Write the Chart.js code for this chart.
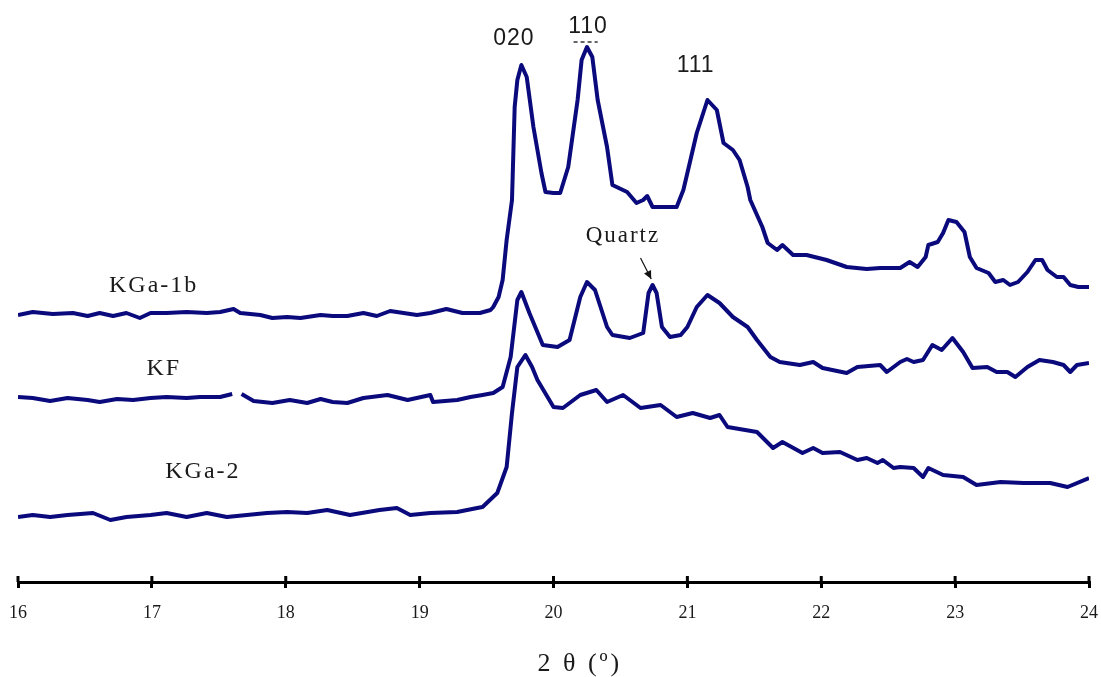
<!DOCTYPE html>
<html>
<head>
<meta charset="utf-8">
<title>XRD - KGa-1b, KF, KGa-2</title>
<script src="https://cdn.jsdelivr.net/npm/chart.js@4.4.1/dist/chart.umd.min.js"></script>
<style>
  body { margin: 0; background: #fff; }
  #wrap { width: 1101px; height: 677px; position: relative; }
</style>
</head>
<body>
<div id="wrap"><canvas id="xrd"></canvas></div>
<script>
// 2 theta (deg) and intensity (arbitrary units, traces stacked)
const kga1bTheta = [16.00,16.11,16.26,16.41,16.52,16.61,16.71,16.81,16.91,16.99,
  17.11,17.26,17.41,17.51,17.61,17.66,17.81,17.90,18.01,18.11,
  18.26,18.35,18.46,18.58,18.68,18.78,18.88,18.98,19.08,19.20,
  19.32,19.45,19.53,19.55,19.59,19.62,19.65,19.69,19.71,19.73,
  19.76,19.80,19.85,19.91,19.94,20.00,20.05,20.11,20.18,20.21,
  20.25,20.29,20.33,20.40,20.44,20.55,20.62,20.67,20.70,20.74,
  20.85,20.92,20.97,21.00,21.07,21.15,21.22,21.27,21.34,21.39,
  21.45,21.47,21.52,21.56,21.60,21.67,21.71,21.79,21.89,22.04,
  22.19,22.34,22.44,22.59,22.66,22.72,22.78,22.80,22.87,22.91,
  22.95,23.01,23.07,23.11,23.16,23.25,23.30,23.36,23.41,23.47,
  23.54,23.60,23.65,23.69,23.76,23.81,23.86,23.92,24.00]
const kga1bInt = [267,270,268,269,266,269,266,269,264,269,
  269,270,269,270,273,269,267,264,265,264,
  267,266,266,269,266,271,269,267,269,273,
  269,269,272,275,285,302,342,382,475,502,
  517,505,455,409,390,389,389,415,482,522,
  535,525,482,435,397,390,379,382,386,375,
  375,375,392,409,449,482,472,439,432,422,
  395,382,367,355,339,332,337,327,327,322,
  315,313,314,314,320,315,325,337,340,349,
  362,360,350,325,314,309,300,302,297,300,
  310,322,322,312,305,305,297,295,295]

const kfTheta = [16.00,16.11,16.24,16.37,16.52,16.61,16.74,16.86,16.99,17.11,
  17.26,17.36,17.51,17.60,17.63,17.67,17.76,17.90,18.03,18.16,
  18.26,18.35,18.46,18.58,18.76,18.91,19.08,19.10,19.28,19.38,
  19.47,19.55,19.62,19.68,19.73,19.76,19.82,19.92,20.03,20.12,
  20.20,20.25,20.31,20.40,20.44,20.57,20.67,20.71,20.74,20.77,
  20.81,20.87,20.95,21.00,21.07,21.15,21.24,21.34,21.45,21.52,
  21.62,21.69,21.84,21.94,22.01,22.19,22.27,22.44,22.49,22.59,
  22.64,22.69,22.76,22.83,22.90,22.98,23.06,23.13,23.24,23.31,
  23.39,23.45,23.54,23.63,23.73,23.81,23.86,23.91,24.00]
const kfInt = [185,184,181,184,182,180,183,182,184,185,
  184,185,185,188,null,188,181,179,182,179,
  183,180,179,184,187,182,187,180,182,185,
  187,189,195,225,282,290,269,237,235,242,
  285,300,292,255,247,244,249,289,297,289,
  255,245,247,255,275,287,279,265,255,242,
  225,220,217,220,214,209,215,217,210,220,
  223,220,222,237,232,244,230,214,215,210,
  210,205,215,222,220,217,210,217,219]

const kga2Theta = [16.00,16.11,16.24,16.37,16.56,16.69,16.81,16.99,17.11,17.26,
  17.41,17.56,17.71,17.86,18.01,18.16,18.31,18.48,18.70,18.83,
  18.93,19.08,19.28,19.43,19.47,19.58,19.65,19.69,19.73,19.79,
  19.84,19.88,20.00,20.07,20.20,20.32,20.40,20.52,20.65,20.80,
  20.92,21.04,21.17,21.24,21.30,21.52,21.64,21.71,21.86,21.94,
  22.01,22.14,22.27,22.34,22.42,22.46,22.54,22.59,22.69,22.76,
  22.80,22.91,23.06,23.16,23.34,23.51,23.71,23.84,24.00]
const kga2Int = [65,67,65,67,69,62,65,67,69,65,
  69,65,67,69,70,69,72,67,72,74,
  67,69,70,74,75,89,115,169,215,227,
  215,202,175,174,187,192,180,187,174,177,
  165,169,164,167,155,150,134,140,129,134,
  129,130,122,124,119,122,114,115,114,105,
  114,107,105,97,100,99,99,95,104]

const tickValues = [16, 17, 18, 19, 20, 21, 22, 23, 24]
const axisTitle = '2 \u03b8 (\u00ba)'

// text labels placed in data coordinates (2 theta, intensity), left / baseline
const notes = [
  { text: 'KGa-1b', x: 16.68, y: 290, font: '24px "Liberation Serif"', sp: 2 },
  { text: 'KF', x: 16.96, y: 207, font: '24px "Liberation Serif"', sp: 2 },
  { text: 'KGa-2', x: 17.10, y: 104, font: '24px "Liberation Serif"', sp: 2 },
  { text: 'Quartz', x: 20.24, y: 340, font: '23px "Liberation Serif"', sp: 2 },
  { text: '020', x: 19.55, y: 537, font: '23px "Liberation Sans"', sp: 1 },
  { text: '110', x: 20.11, y: 549, font: '23px "Liberation Sans"', sp: 1 },
  { text: '111', x: 20.92, y: 510, font: '23px "Liberation Sans"', sp: 1 }
]

function pts(xs, ys) {
  return xs.map((x, i) => ({ x: x, y: ys[i] }))
}

const lineColor = '#0a0a7c'

const extras = {
  id: 'extras',
  afterDraw(chart) {
    const ctx = chart.ctx
    const xs = chart.scales.x
    const ys = chart.scales.y
    const base = chart.chartArea.bottom
    ctx.save()
    // upper half of the tick marks (crossing the axis)
    ctx.strokeStyle = '#000'
    ctx.lineWidth = 3
    tickValues.forEach(v => {
      const px = xs.getPixelForValue(v)
      ctx.beginPath()
      ctx.moveTo(px, base - 6)
      ctx.lineTo(px, base)
      ctx.stroke()
    })
    // text labels
    ctx.fillStyle = '#1a1a1a'
    ctx.textAlign = 'left'
    ctx.textBaseline = 'alphabetic'
    notes.forEach(n => {
      ctx.font = n.font
      ctx.letterSpacing = n.sp + 'px'
      ctx.fillText(n.text, xs.getPixelForValue(n.x), ys.getPixelForValue(n.y))
    })
    // dashes under 110
    ctx.letterSpacing = '0px'
    ctx.setLineDash([4, 3])
    ctx.lineWidth = 1.5
    ctx.strokeStyle = '#333'
    ctx.beginPath()
    ctx.moveTo(xs.getPixelForValue(20.15), ys.getPixelForValue(540))
    ctx.lineTo(xs.getPixelForValue(20.33), ys.getPixelForValue(540))
    ctx.stroke()
    ctx.setLineDash([])
    // quartz arrow
    const ax0 = xs.getPixelForValue(20.65), ay0 = ys.getPixelForValue(324)
    const ax1 = xs.getPixelForValue(20.73), ay1 = ys.getPixelForValue(303)
    ctx.strokeStyle = '#111'
    ctx.fillStyle = '#111'
    ctx.lineWidth = 1.2
    ctx.beginPath()
    ctx.moveTo(ax0, ay0)
    ctx.lineTo(ax1, ay1)
    ctx.stroke()
    const ang = Math.atan2(ay1 - ay0, ax1 - ax0)
    ctx.beginPath()
    ctx.moveTo(ax1, ay1)
    ctx.lineTo(ax1 - 9 * Math.cos(ang - 0.45), ay1 - 9 * Math.sin(ang - 0.45))
    ctx.lineTo(ax1 - 9 * Math.cos(ang + 0.45), ay1 - 9 * Math.sin(ang + 0.45))
    ctx.closePath()
    ctx.fill()
    // axis title
    ctx.font = '26px "Liberation Serif"'
    ctx.letterSpacing = '3px'
    ctx.fillStyle = '#1a1a1a'
    ctx.fillText(axisTitle, xs.getPixelForValue(19.88), 671)
    ctx.restore()
  }
}

const ds = (label, data) => ({
  label: label,
  data: data,
  borderColor: lineColor,
  borderWidth: 4,
  pointRadius: 0,
  tension: 0,
  spanGaps: false,
  borderJoinStyle: 'round'
})

new Chart(document.getElementById('xrd'), {
  type: 'line',
  data: {
    datasets: [
      ds('KGa-1b', pts(kga1bTheta, kga1bInt)),
      ds('KF', pts(kfTheta, kfInt)),
      ds('KGa-2', pts(kga2Theta, kga2Int))
    ]
  },
  options: {
    responsive: true,
    maintainAspectRatio: false,
    animation: false,
    layout: { padding: { left: 18, right: 12, top: 0, bottom: 0 } },
    plugins: {
      legend: { display: false },
      tooltip: { enabled: false }
    },
    scales: {
      x: {
        type: 'linear',
        min: 16,
        max: 24,
        afterFit(scale) {
          scale.height = 95
          scale.paddingLeft = 0
          scale.paddingRight = 0
        },
        afterBuildTicks(scale) { scale.ticks = tickValues.map(v => ({ value: v })) },
        border: { display: true, color: '#000', width: 3 },
        grid: { drawOnChartArea: false, drawTicks: true, tickLength: 6, color: '#000', lineWidth: 3 },
        ticks: {
          color: '#1a1a1a',
          padding: 14,
          maxRotation: 0,
          font: { family: 'Liberation Serif', size: 18 },
          callback: v => String(v)
        }
      },
      y: {
        display: false,
        min: 0,
        max: 582
      }
    }
  },
  plugins: [extras]
})
</script>
</body>
</html>
